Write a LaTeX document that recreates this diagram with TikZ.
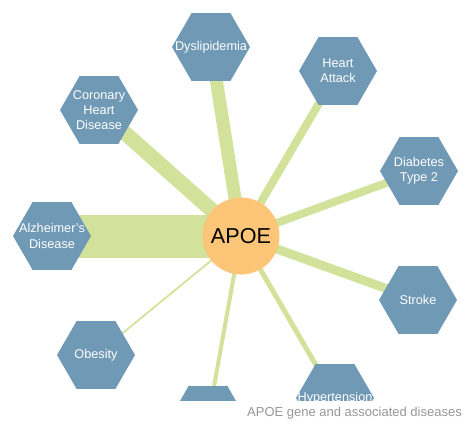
\documentclass[tikz,border=0pt]{standalone}
\usepackage{fontspec}
\setmainfont{Liberation Sans}
\usetikzlibrary{shapes.geometric,backgrounds}
\definecolor{hexblue}{RGB}{111,153,181}
\definecolor{linkgreen}{RGB}{211,226,155}
\definecolor{huborange}{RGB}{252,197,120}
\definecolor{captiongray}{RGB}{150,150,150}

\begin{document}
\begin{tikzpicture}[x=1pt,y=-1pt]
\tikzset{
  hexnode/.style={regular polygon,regular polygon sides=6,fill=hexblue,draw=none,minimum size=78pt,inner sep=0pt},
  hexlabel/.style={text=white,font=\fontsize{12.7}{15.3}\selectfont,align=center,inner sep=0pt},
  hubnode/.style={circle,fill=huborange,minimum size=77pt,inner sep=0pt,font=\fontsize{21.6}{24}\selectfont},
  link/.style={draw=linkgreen,line cap=butt},
  caption/.style={text=captiongray,font=\fontsize{13}{15}\selectfont,inner sep=0pt}
}
\useasboundingbox (0,0) rectangle (471,425);
\begin{scope}
\clip (0,0) rectangle (471,400);
\node[hexnode] (n_dys) at (211,47) {};
\node[hexnode] (n_ha) at (338,71) {};
\node[hexnode] (n_chd) at (99,110) {};
\node[hexnode] (n_dt2) at (419,171) {};
\node[hexnode] (n_alz) at (52,236) {};
\node[hexnode] (n_str) at (418,300) {};
\node[hexnode] (n_obe) at (96,355) {};
\node[hexnode] (n_hyp) at (335,398) {};
\node[hexnode] (n_bot) at (208,420) {};
\node[hexlabel] (l_dys) at (n_dys) {Dyslipidemia};
\node[hexlabel] (l_ha) at (n_ha) {Heart\\Attack};
\node[hexlabel] (l_chd) at (n_chd) {Coronary\\Heart\\Disease};
\node[hexlabel] (l_dt2) at (n_dt2) {Diabetes\\Type 2};
\node[hexlabel] (l_alz) at (n_alz) {Alzheimer's\\Disease};
\node[hexlabel] (l_str) at (n_str) {Stroke};
\node[hexlabel] (l_obe) at (n_obe) {Obesity};
\node[hexlabel] (l_hyp) at (n_hyp) {Hypertension};
\node[hubnode] (n_apoe) at (241,236) {APOE};
\end{scope}
\begin{pgfonlayer}{background}
\clip (0,0) rectangle (471,400);
\draw[link,line width=43pt] (n_apoe.center) -- (n_alz.center);
\draw[link,line width=15pt] (n_apoe.center) -- (n_chd.center);
\draw[link,line width=13pt] (n_apoe.center) -- (n_dys.center);
\draw[link,line width=8pt] (n_apoe.center) -- (n_ha.center);
\draw[link,line width=8pt] (n_apoe.center) -- (n_dt2.center);
\draw[link,line width=9pt] (n_apoe.center) -- (n_str.center);
\draw[link,line width=5pt] (n_apoe.center) -- (n_hyp.center);
\draw[link,line width=4pt] (n_apoe.center) -- (n_bot.center);
\draw[link,line width=1.8pt] (n_apoe.center) -- (n_obe.center);
\end{pgfonlayer}
\node[caption,anchor=east] (cap) at (462,413) {APOE gene and associated diseases};
\end{tikzpicture}
\end{document}
